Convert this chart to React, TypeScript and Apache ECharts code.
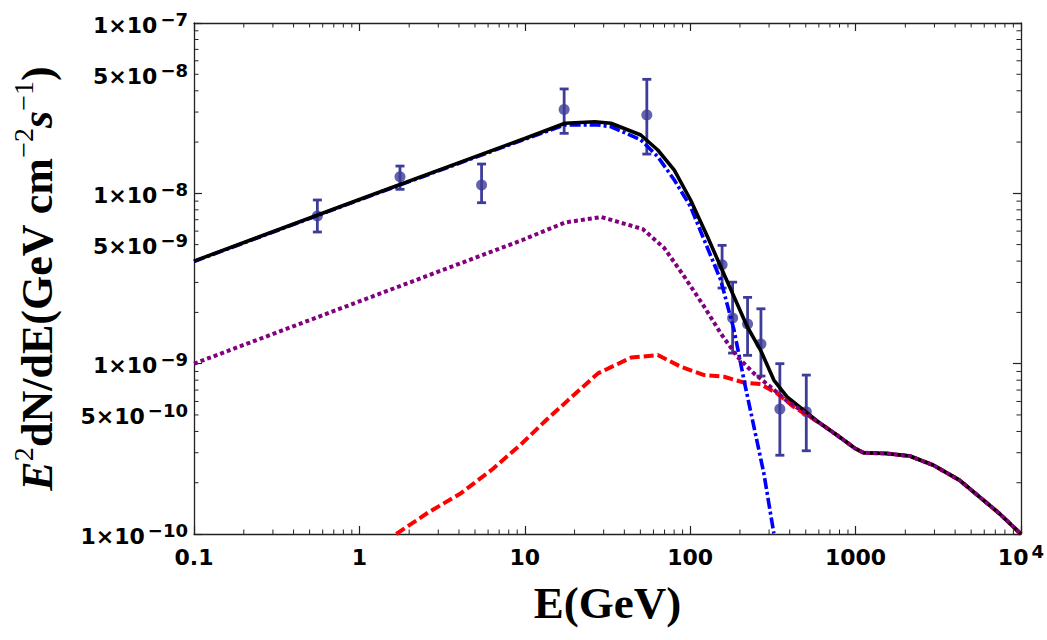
import React, { useEffect, useRef } from "react";
import * as echarts from "echarts";

const X_MIN = 0.1;
const X_MAX = 10000;
const Y_MIN = 1e-10;
const Y_MAX = 1e-7;

// shared high-energy tail (total = dotted = dashed there)
const tailE = [611.5, 770.9, 993, 1116, 1541, 2128, 2942, 4254, 5610, 7403, 10000];
const tailF = [4.46e-10, 3.81e-10, 3.18e-10, 3.0e-10, 2.97e-10, 2.87e-10, 2.54e-10, 2.07e-10, 1.654e-10, 1.32e-10, 1.0e-10];

// total (black solid)
const totalE = [0.1, 1, 10, 17.5, 26.5, 33.2, 50.3, 63.7, 80.2, 100.6, 127.3, 153, 184.2, 221.5, 266.3, 320.6, 385.5, 485.9];
const totalF = [4.0e-9, 9.2e-9, 2.1e-8, 2.58e-8, 2.63e-8, 2.58e-8, 2.2e-8, 1.796e-8, 1.37e-8, 9.14e-9, 5.56e-9, 3.71e-9, 2.47e-9, 1.647e-9, 1.202e-9, 8.01e-10, 6.39e-10, 5.34e-10];

// blue dash-dot component
const blueE = [0.1, 1, 10, 17.5, 27.7, 33.3, 50.3, 63.7, 80.2, 100.6, 121.6, 153, 184.2, 211.6, 243, 279, 320.6];
const blueF = [3.98e-9, 9.15e-9, 2.08e-8, 2.52e-8, 2.52e-8, 2.46e-8, 2.06e-8, 1.64e-8, 1.197e-8, 8.34e-9, 5.32e-9, 3.1e-9, 1.575e-9, 8.01e-10, 4.26e-10, 2.27e-10, 1.008e-10];

// purple dotted component
const purpleE = [0.1, 9.67, 17.48, 29.0, 51.7, 69.8, 92.2, 121.6, 153, 192.8, 243, 305.9, 385.5, 485.9];
const purpleF = [1.0e-9, 5.32e-9, 6.74e-9, 7.26e-9, 6.17e-9, 4.77e-9, 3.24e-9, 2.16e-9, 1.507e-9, 1.098e-9, 8.77e-10, 7.31e-10, 6.03e-10, 5.2e-10];

// red dashed component
const redE = [1.672, 2.63, 4.04, 6.38, 9.67, 13.49, 18.3, 27.7, 44.0, 63.7, 87.9, 121.6, 160.3, 211.6, 266.3, 335.6, 423];
const redF = [1.0e-10, 1.345e-10, 1.715e-10, 2.4e-10, 3.42e-10, 4.67e-10, 6.11e-10, 8.77e-10, 1.086e-9, 1.123e-9, 9.59e-10, 8.57e-10, 8.38e-10, 7.74e-10, 7.59e-10, 6.69e-10, 5.58e-10];

// data points with error bars
const ptE = [0.557, 1.76, 5.48, 17.3, 54.7, 156, 180.6, 222.4, 267.9, 348.6, 503.7];
const ptF = [7.36e-9, 1.25e-8, 1.12e-8, 3.11e-8, 2.88e-8, 3.81e-9, 1.853e-9, 1.708e-9, 1.303e-9, 5.41e-10, 5.22e-10];
const ptLo = [5.93e-9, 1.056e-8, 8.81e-9, 2.25e-8, 1.7e-8, 2.78e-9, 1.154e-9, 1.119e-9, 8.46e-10, 2.9e-10, 3.08e-10];
const ptHi = [9.14e-9, 1.446e-8, 1.486e-8, 4.1e-8, 4.67e-8, 4.95e-9, 3.01e-9, 2.45e-9, 2.1e-9, 1.0e-9, 8.57e-10];

// tick values
const xMinorTicks = [
  0.2, 0.3, 0.4, 0.5, 0.6, 0.7, 0.8, 0.9,
  2, 3, 4, 5, 6, 7, 8, 9,
  20, 30, 40, 50, 60, 70, 80, 90,
  200, 300, 400, 500, 600, 700, 800, 900,
  2000, 3000, 4000, 5000, 6000, 7000, 8000, 9000,
];
const yMinorTicks = [
  2e-10, 3e-10, 4e-10, 5e-10, 6e-10, 7e-10, 8e-10, 9e-10,
  2e-9, 3e-9, 4e-9, 5e-9, 6e-9, 7e-9, 8e-9, 9e-9,
  2e-8, 3e-8, 4e-8, 5e-8, 6e-8, 7e-8, 8e-8, 9e-8,
];
const yHalfLabels = [5e-10, 5e-9, 5e-8];
const xTickLabels: Record<number, string> = { [-1]: "0.1", 0: "1", 1: "10", 2: "100", 3: "1000" };

const PT = "#3d3d99";
const FRAME = "#222";

const tickRich: any = {
  m: { fontFamily: "DejaVu Sans", fontWeight: "bold", fontSize: 22, color: "#000", lineHeight: 26, verticalAlign: "bottom" },
  e: { fontFamily: "DejaVu Sans", fontWeight: "bold", fontSize: 18, color: "#000", lineHeight: 16, verticalAlign: "top", padding: [0, 0, 0, 3] },
};

const nameRich: any = {
  i: { fontFamily: "Liberation Serif", fontStyle: "italic", fontWeight: "bold", fontSize: 44, lineHeight: 50, verticalAlign: "bottom", color: "#000" },
  b: { fontFamily: "Liberation Serif", fontWeight: "bold", fontSize: 44, lineHeight: 50, verticalAlign: "bottom", color: "#000" },
  s: { fontFamily: "Liberation Serif", fontSize: 28, lineHeight: 30, verticalAlign: "top", color: "#000" },
};

function pairs(xs: number[], ys: number[]) {
  return xs.map((x, i) => [x, ys[i]]);
}

export default function App() {
  const ref = useRef<HTMLDivElement>(null);
  useEffect(() => {
    const chart = echarts.init(ref.current!, null, { renderer: "svg" });

    const logAxisBase = {
      type: "log" as const,
      logBase: 10,
      splitLine: { show: false },
      minorTick: { show: false },
      axisLine: { show: true, lineStyle: { color: FRAME, width: 1.3 } },
      axisTick: { show: true, inside: true, length: 8, lineStyle: { color: FRAME, width: 1.2 } },
    };

    const option: any = {
      animation: false,
      backgroundColor: "#fff",
      grid: { left: 194, right: 22, top: 23, bottom: 106 },
      xAxis: [
        {
          ...logAxisBase,
          min: X_MIN,
          max: X_MAX,
          position: "bottom",
          name: "E(GeV)",
          nameLocation: "middle",
          nameGap: 44,
          nameTextStyle: { fontFamily: "Liberation Serif", fontWeight: "bold", fontSize: 45, color: "#000", lineHeight: 50 },
          axisLabel: {
            show: true,
            margin: 8,
            showMinLabel: true,
            showMaxLabel: true,
            rich: tickRich,
            formatter: (v: number) => {
              const e = Math.round(Math.log10(v));
              if (e >= 4) return `{m|10}{e|${e}}`;
              return `{m|${xTickLabels[e]}}`;
            },
          },
        },
        {
          ...logAxisBase,
          min: X_MIN,
          max: X_MAX,
          position: "top",
          axisLabel: { show: false },
        },
      ],
      yAxis: [
        {
          ...logAxisBase,
          min: Y_MIN,
          max: Y_MAX,
          position: "left",
          name: "{i|E}{s|2}{b|dN/dE(GeV cm}{s|−2}{i|s}{s|−1}{b|)}",
          nameLocation: "middle",
          nameGap: 135,
          nameRotate: 90,
          nameTextStyle: { rich: nameRich },
          axisLabel: {
            show: true,
            margin: 6,
            showMinLabel: true,
            showMaxLabel: true,
            rich: tickRich,
            formatter: (v: number) => {
              const e = Math.round(Math.log10(v));
              return `{m|1×10}{e|−${-e}}`;
            },
          },
        },
        {
          ...logAxisBase,
          min: Y_MIN,
          max: Y_MAX,
          position: "right",
          axisLabel: { show: false },
        },
      ],
      series: [
        {
          type: "custom",
          name: "xminor",
          silent: true,
          clip: false,
          data: xMinorTicks.map((v) => [v, Y_MIN]),
          encode: { x: 0, y: 1 },
          renderItem: (params: any, api: any) => {
            const cs = params.coordSys;
            const px = api.coord([api.value(0), Y_MIN])[0];
            const st = { stroke: FRAME, lineWidth: 1 };
            return {
              type: "group",
              children: [
                { type: "line", shape: { x1: px, y1: cs.y + cs.height, x2: px, y2: cs.y + cs.height - 4.5 }, style: st },
                { type: "line", shape: { x1: px, y1: cs.y, x2: px, y2: cs.y + 4.5 }, style: st },
              ],
            };
          },
        },
        {
          type: "custom",
          name: "yminor",
          silent: true,
          clip: false,
          data: yMinorTicks.map((v) => [X_MIN, v]),
          encode: { x: 0, y: 1 },
          renderItem: (params: any, api: any) => {
            const cs = params.coordSys;
            const py = api.coord([X_MIN, api.value(1)])[1];
            const st = { stroke: FRAME, lineWidth: 1 };
            return {
              type: "group",
              children: [
                { type: "line", shape: { x1: cs.x, y1: py, x2: cs.x + 4.5, y2: py }, style: st },
                { type: "line", shape: { x1: cs.x + cs.width, y1: py, x2: cs.x + cs.width - 4.5, y2: py }, style: st },
              ],
            };
          },
        },
        {
          type: "custom",
          name: "yhalf",
          silent: true,
          clip: false,
          data: yHalfLabels.map((v) => [X_MIN, v]),
          encode: { x: 0, y: 1 },
          renderItem: (params: any, api: any) => {
            const cs = params.coordSys;
            const v = api.value(1);
            const py = api.coord([X_MIN, v])[1];
            const e = Math.floor(Math.log10(v));
            return {
              type: "text",
              x: cs.x - 6,
              y: py,
              style: {
                text: `{m|5×10}{e|−${-e}}`,
                rich: tickRich,
                align: "right",
                verticalAlign: "middle",
              },
            };
          },
        },
        {
          type: "custom",
          name: "errors",
          silent: true,
          data: ptE.map((e, i) => [e, ptLo[i], ptHi[i]]),
          encode: { x: 0, y: [1, 2] },
          renderItem: (params: any, api: any) => {
            const x = api.value(0);
            const a = api.coord([x, api.value(1)]);
            const b = api.coord([x, api.value(2)]);
            const w = 4.5;
            const st = { stroke: PT, lineWidth: 2.8 };
            return {
              type: "group",
              children: [
                { type: "line", shape: { x1: a[0], y1: a[1], x2: b[0], y2: b[1] }, style: st },
                { type: "line", shape: { x1: a[0] - w, y1: a[1], x2: a[0] + w, y2: a[1] }, style: st },
                { type: "line", shape: { x1: b[0] - w, y1: b[1], x2: b[0] + w, y2: b[1] }, style: st },
              ],
            };
          },
        },
        {
          type: "scatter",
          name: "data",
          data: pairs(ptE, ptF),
          symbol: "circle",
          symbolSize: 11,
          itemStyle: { color: PT },
        },
        {
          type: "line",
          name: "red",
          data: pairs(redE.concat(tailE), redF.concat(tailF)),
          showSymbol: false,
          lineStyle: { color: "#ff0000", width: 4, type: [10, 4] },
        },
        {
          type: "line",
          name: "blue",
          data: pairs(blueE, blueF),
          showSymbol: false,
          lineStyle: { color: "#0000ff", width: 3.6, type: [11, 3, 3, 3] },
        },
        {
          type: "line",
          name: "total",
          data: pairs(totalE.concat(tailE), totalF.concat(tailF)),
          showSymbol: false,
          lineStyle: { color: "#000", width: 3.6 },
        },
        {
          type: "line",
          name: "purple",
          data: pairs(purpleE.concat(tailE), purpleF.concat(tailF)),
          showSymbol: false,
          lineStyle: { color: "#800080", width: 4, type: [4, 3] },
        },
      ],
    };

    chart.setOption(option);
    return () => chart.dispose();
  }, []);

  return (
    <div
      ref={ref}
      style={{ position: "fixed", left: 0, top: 0, width: 1047, height: 640, background: "#fff" }}
    />
  );
}
